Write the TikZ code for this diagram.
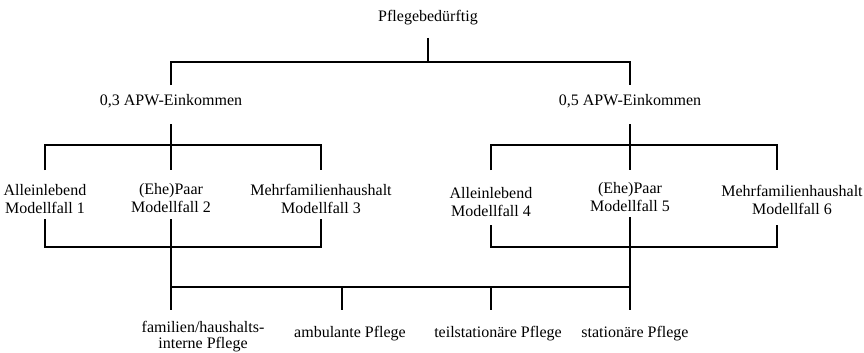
\documentclass[tikz,border=0pt]{standalone}
\usepackage{fontspec}
\setmainfont{Liberation Serif}
\usepackage{tikz}

\begin{document}
\begin{tikzpicture}[x=1pt,y=1pt,yscale=-1,xscale=1,
    every path/.style={line width=1.1pt},
    txt/.style={anchor=base,inner sep=0.75pt,align=center,font=\fontsize{16}{18}\selectfont}]
    \useasboundingbox (0,0) rectangle (864,353);

    % Text Node
    \node (pfl) at (428,22) [txt] {Pflegebedürftig};
    % Text Node
    \node (ek03) at (171,105) [txt] {0,3 APW-Einkommen};
    % Text Node
    \node (ek05) at (630,105) [txt] {0,5 APW-Einkommen};
    % Text Node
    \node (mf1) at (45,213) [txt] {Alleinlebend\\Modellfall 1};
    % Text Node
    \node (mf2) at (171,212) [txt] {(Ehe)Paar\\Modellfall 2};
    % Text Node
    \node (mf3) at (321,213) [txt] {Mehrfamilienhaushalt\\Modellfall 3};
    % Text Node
    \node (mf4) at (491,216) [txt] {Alleinlebend\\Modellfall 4};
    % Text Node
    \node (mf5) at (630,211) [txt] {(Ehe)Paar\\Modellfall 5};
    % Text Node
    \node (mf6) at (792,214) [txt] {Mehrfamilienhaushalt\\Modellfall 6};
    % Text Node
    \node (pf1) at (203,348) [txt] {familien/haushalts-\\[-2pt]interne Pflege};
    % Text Node
    \node (pf2) at (350,337) [txt] {ambulante Pflege};
    % Text Node
    \node (pf3) at (498,337) [txt] {teilstationäre Pflege};
    % Text Node
    \node (pf4) at (635,337) [txt] {stationäre Pflege};

    %Coordinates [junctions]
    \coordinate (c6) at (777,0);
    \coordinate (b1) at (171,287);
    \coordinate (b2) at (342,287);
    \coordinate (b3) at (491,287);
    \coordinate (b4) at (630,287);

    %Straight Lines [top]
    \draw (pfl |- 0,38) -- (pfl |- 0,62);
    \draw (ek03 |- 0,85) -- (ek03 |- 0,62) -- (ek05 |- 0,62) -- (ek05 |- 0,85);
    %Straight Lines [left group]
    \draw (ek03 |- 0,124) -- (mf2 |- 0,170);
    \draw (mf1 |- 0,170) -- (mf1 |- 0,145) -- (mf3 |- 0,145) -- (mf3 |- 0,170);
    %Straight Lines [right group]
    \draw (ek05 |- 0,124) -- (mf5 |- 0,170);
    \draw (mf4 |- 0,170) -- (mf4 |- 0,145) -- (c6 |- 0,145) -- (c6 |- 0,170);
    %Straight Lines [left bracket]
    \draw (mf1 |- 0,219) -- (mf1 |- 0,247) -- (mf3 |- 0,247) -- (mf3 |- 0,219);
    \draw (mf2 |- 0,219) -- (b1 |- 0,310);
    %Straight Lines [right bracket]
    \draw (mf4 |- 0,225) -- (mf4 |- 0,247) -- (c6 |- 0,247) -- (c6 |- 0,225);
    \draw (mf5 |- 0,217) -- (b4 |- 0,310);
    %Straight Lines [care forms]
    \draw (b1) -- (b4);
    \draw (b2) -- (b2 |- 0,310);
    \draw (b3) -- (b3 |- 0,310);

\end{tikzpicture}
\end{document}
